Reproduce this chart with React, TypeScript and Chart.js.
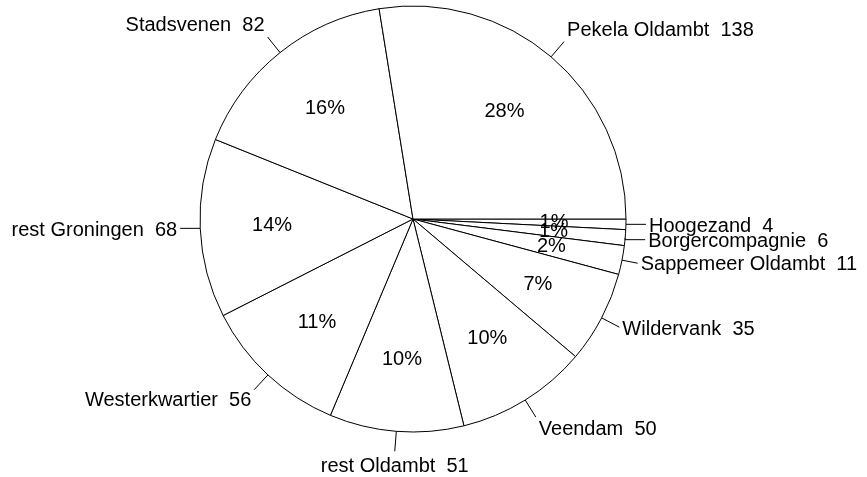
import React, { useEffect, useRef } from "react";
import { Chart, registerables } from "chart.js";

Chart.register(...registerables);

const categories = [
  "Hoogezand",
  "Borgercompagnie",
  "Sappemeer Oldambt",
  "Wildervank",
  "Veendam",
  "rest Oldambt",
  "Westerkwartier",
  "rest Groningen",
  "Stadsvenen",
  "Pekela Oldambt",
];
const values = [4, 6, 11, 35, 50, 51, 56, 68, 82, 138];

const FONT = '"Liberation Sans", Arial, Helvetica, sans-serif';

const labelPlugin = {
  id: "outerLabels",
  afterDatasetsDraw(chart: any) {
    const ctx = chart.ctx as CanvasRenderingContext2D;
    const meta = chart.getDatasetMeta(0);
    const data = chart.data.datasets[0].data as number[];
    const labels = chart.data.labels as string[];
    const total = data.reduce((a, b) => a + b, 0);
    ctx.save();
    meta.data.forEach((arc: any, i: number) => {
      const { x, y, startAngle, endAngle, outerRadius } = arc.getProps(
        ["x", "y", "startAngle", "endAngle", "outerRadius"],
        true
      );
      const mid = (startAngle + endAngle) / 2;
      const c = Math.cos(mid);
      const s = Math.sin(mid);

      // percentage inside
      ctx.fillStyle = "#000";
      ctx.font = `20px ${FONT}`;
      ctx.textAlign = "center";
      ctx.textBaseline = "middle";
      const pr = outerRadius * 0.662;
      ctx.fillText(
        Math.round((data[i] / total) * 100) + "%",
        x + pr * c,
        y + pr * s
      );

      // leader line
      const ex = x + outerRadius * c;
      const ey = y + outerRadius * s;
      const horiz = Math.abs(s) < 0.1;
      let lx: number, ly: number;
      if (horiz) {
        lx = ex + 20 * Math.sign(c);
        ly = ey + (s > 0.05 ? 2 : 0);
      } else {
        const len = Math.abs(s) < 0.3 ? 16 : 20;
        lx = x + (outerRadius + len) * c;
        ly = y + (outerRadius + len) * s;
      }
      ctx.strokeStyle = "#000";
      ctx.lineWidth = 1;
      ctx.beginPath();
      ctx.moveTo(ex, ey);
      if (horiz && ly !== ey) {
        ctx.lineTo(ex, ly);
        ctx.moveTo(ex, ly);
      }
      ctx.lineTo(lx, ly);
      ctx.stroke();

      // outer label
      ctx.font = `20px ${FONT}`;
      let tx = lx;
      if (Math.abs(c) < 0.2) {
        ctx.textAlign = "center";
      } else if (c > 0) {
        ctx.textAlign = "left";
        tx = lx + 3;
      } else {
        ctx.textAlign = "right";
        tx = lx - 3;
      }
      let offY: number;
      if (horiz) offY = 2;
      else if (Math.abs(s) > 0.6) offY = 15 * s;
      else offY = 5 * s;
      ctx.fillText(`${labels[i]}  ${data[i]}`, tx, ly + offY);
    });
    ctx.restore();
  },
};

export default function App() {
  const ref = useRef<HTMLCanvasElement | null>(null);
  useEffect(() => {
    if (!ref.current) return;
    const chart = new Chart(ref.current, {
      type: "pie",
      data: {
        labels: categories,
        datasets: [
          {
            data: values,
            backgroundColor: "#ffffff",
            borderColor: "#000000",
            borderWidth: 1,
            hoverOffset: 0,
          },
        ],
      },
      options: {
        responsive: false,
        animation: false,
        devicePixelRatio: 1,
        rotation: 90,
        radius: 213,
        layout: { padding: { left: 0, right: 41, top: 0, bottom: 39 } },
        plugins: {
          legend: { display: false },
          tooltip: { enabled: false },
        },
        events: [],
      } as any,
      plugins: [labelPlugin],
    });
    return () => chart.destroy();
  }, []);
  return (
    <div style={{ position: "absolute", left: 0, top: 0, width: 867, height: 477, background: "#fff" }}>
      <canvas ref={ref} width={867} height={477} style={{ display: "block" }} />
    </div>
  );
}
